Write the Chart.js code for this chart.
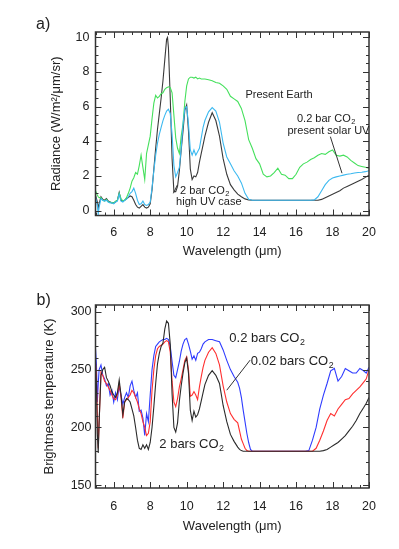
<!DOCTYPE html>
<html>
<head>
<meta charset="utf-8">
<script src="https://cdn.jsdelivr.net/npm/chart.js@4/dist/chart.umd.min.js"></script>
<style>
  html, body { margin: 0; padding: 0; background: #fff; }
  #wrap { position: relative; width: 399px; height: 549px; }
  canvas { position: absolute; left: 0; }
</style>
</head>
<body>
<div id="wrap">
  <canvas id="top" width="399" height="270" style="top:0"></canvas>
  <canvas id="bot" width="399" height="279" style="top:270px"></canvas>
</div>
<script>
// ---------- Panel a) Radiance ----------
const topWavelength = [
  5.0,5.1,5.15,5.2,5.3,5.4,5.5,5.6,5.7,5.8,
  5.9,6.0,6.1,6.2,6.3,6.4,6.5,6.6,6.7,6.8,
  6.9,7.0,7.1,7.2,7.3,7.4,7.5,7.6,7.7,7.8,
  7.9,8.0,8.1,8.2,8.3,8.4,8.5,8.6,8.7,8.8,
  8.9,8.95,9.0,9.1,9.2,9.3,9.4,9.5,9.6,9.7,
  9.8,9.9,10.0,10.1,10.2,10.3,10.4,10.5,10.6,10.7,
  10.8,10.9,11.0,11.2,11.4,11.6,11.8,12.0,12.2,12.4,
  12.6,12.8,13.0,13.2,13.4,13.6,13.8,14.0,14.2,14.4,
  14.6,14.8,15.0,15.2,15.4,15.6,15.8,16.0,16.2,16.4,
  16.6,16.8,17.0,17.2,17.4,17.6,17.8,18.0,18.2,18.4,
  18.6,18.8,19.0,19.2,19.4,19.6,19.8,20.0
];
const presentEarth = [
  1.15,0.9,0.8,0.75,0.75,0.6,0.55,0.65,0.5,0.5,
  0.45,0.45,0.55,0.6,1.0,0.7,0.55,0.6,0.75,1.0,
  1.3,1.7,1.9,2.2,2.1,2.6,3.2,2.5,1.8,3.3,
  3.8,4.3,5.3,6.2,6.65,6.5,6.6,6.75,6.8,7.0,
  7.1,7.12,7.15,7.1,6.8,5.5,4.2,3.6,3.3,4.3,
  5.0,6.3,7.2,7.6,7.7,7.7,7.65,7.7,7.6,7.65,
  7.6,7.6,7.6,7.55,7.5,7.4,7.35,7.2,7.0,6.6,
  6.45,6.3,5.9,5.2,4.1,3.6,3.0,2.7,2.1,1.95,
  2.0,2.2,2.45,2.1,2.05,1.85,1.85,2.1,2.5,2.7,
  2.8,2.95,3.05,3.2,3.3,3.25,3.4,3.5,3.2,3.15,
  3.2,3.1,2.9,2.75,2.6,2.55,2.5,2.45
];
const co2Bar02PresentUV = [
  0.8,0.3,-0.2,0.2,0.7,0.6,0.55,0.6,0.5,0.45,
  0.45,0.4,0.5,0.55,0.95,0.55,0.5,0.6,0.65,0.8,
  1.0,1.1,1.3,1.0,0.6,0.35,0.4,0.55,0.35,0.3,
  0.35,0.5,1.3,2.3,3.2,3.9,4.4,4.8,5.2,5.5,
  5.75,5.8,5.85,5.6,4.4,2.6,1.95,2.2,2.5,3.6,
  5.0,5.9,6.0,5.0,3.5,3.2,3.5,3.2,3.4,3.6,
  4.2,4.8,5.2,5.7,5.95,5.75,5.1,3.9,3.1,2.7,
  2.3,2.0,1.6,1.0,0.65,0.6,0.6,0.6,0.6,0.6,
  0.6,0.6,0.6,0.6,0.6,0.6,0.6,0.6,0.6,0.6,
  0.6,0.6,0.62,0.8,1.15,1.5,1.75,1.88,1.95,2.0,
  2.05,2.1,2.13,2.17,2.2,2.22,2.25,2.3
];
const co2Bar2HighUV = [
  0.9,0.5,0.15,0.4,0.8,0.65,0.6,0.7,0.55,0.5,
  0.45,0.45,0.5,0.6,1.05,0.6,0.55,0.6,0.7,0.75,
  0.85,0.8,0.6,0.35,0.2,0.15,0.25,0.35,0.2,0.15,
  0.2,0.4,1.2,2.4,3.6,4.7,5.6,6.5,7.5,8.7,
  9.9,10.0,9.4,6.5,3.0,1.1,1.1,1.4,2.3,3.5,
  4.6,5.8,6.1,4.6,2.4,1.8,2.0,1.95,2.2,2.8,
  3.3,3.8,4.3,5.1,5.65,5.2,4.3,3.0,2.1,1.5,
  1.2,0.95,0.8,0.68,0.62,0.6,0.6,0.6,0.6,0.6,
  0.6,0.6,0.6,0.6,0.6,0.6,0.6,0.6,0.6,0.6,
  0.6,0.6,0.6,0.6,0.65,0.75,0.85,0.95,1.05,1.15,
  1.3,1.4,1.5,1.6,1.7,1.8,1.92,2.05
];
const topYTicks = [0, 2, 4, 6, 8, 10];

// ---------- Panel b) Brightness temperature ----------
const botWavelength = [
  5.0,5.05,5.1,5.15,5.2,5.3,5.4,5.5,5.6,5.7,
  5.8,5.9,6.0,6.1,6.2,6.3,6.4,6.5,6.6,6.7,
  6.8,6.9,7.0,7.1,7.2,7.3,7.4,7.5,7.6,7.7,
  7.8,7.9,8.0,8.1,8.2,8.3,8.4,8.5,8.6,8.7,
  8.8,8.9,9.0,9.1,9.2,9.3,9.4,9.5,9.6,9.7,
  9.8,9.9,10.0,10.1,10.2,10.3,10.4,10.5,10.6,10.7,
  10.8,10.9,11.0,11.2,11.4,11.6,11.8,12.0,12.2,12.4,
  12.6,12.8,12.9,13.0,13.1,13.2,13.3,13.4,13.5,13.6,
  14.0,14.5,15.0,15.5,16.0,16.5,16.7,16.9,17.1,17.3,
  17.5,17.7,17.9,18.1,18.3,18.5,18.7,18.9,19.1,19.3,
  19.5,19.7,19.85,20.0
];
const tb2bars = [
  255,238,195,178,205,245,250,252,243,240,
  236,231,228,226,230,241,228,211,222,225,
  224,222,216,210,200,189,182,181,185,182,
  185,181,187,200,218,238,255,264,270,273,
  285,292,290,272,229,200,196,204,223,236,
  247,256,260,247,215,206,214,209,211,216,
  223,230,237,245,249,245,238,219,205,194,
  188,183,181,180,179.5,179.5,179.5,179.5,179.5,179.5,
  179.5,179.5,179.5,179.5,179.5,179.5,179.5,179.5,179.5,179.5,
  180,181,183,185,187,190,193,197,201,206,
  212,217,221,226
];
const tb002bars = [
  256,245,212,182,205,248,245,240,238,235,
  232,228,225,224,228,238,226,208,222,224,
  226,228,232,230,226,222,216,212,205,200,
  193,195,205,232,250,262,268,270,271,272,
  274,275,274,265,240,222,218,225,235,242,
  250,258,261,250,227,228,231,228,224,235,
  244,252,258,265,269,264,254,236,222,212,
  207,204,197,190,186,182,180,179.5,179.5,179.5,
  179.5,179.5,179.5,179.5,179.5,179.5,179.5,179.5,182,189,
  197,206,212,210,216,220,224,225,229,232,
  235,239,242,250
];
const tb02bars = [
  268,255,222,238,250,254,245,242,236,238,
  228,232,222,230,224,236,228,220,226,230,
  226,236,240,232,226,230,214,215,208,193,
  212,205,228,250,262,270,272,274,275,276,
  276,277,276,270,257,245,243,250,257,266,
  272,276,277,272,266,259,262,258,264,265,
  268,272,274,276,276,275,274,267,258,250,
  244,239,234,226,215,205,195,187,181,179.5,
  179.5,179.5,179.5,179.5,179.5,179.5,180,189,200,216,
  228,238,249,251,240,244,251,249,247,247,
  251,249,247,252
];
const botYTicks = [150, 200, 250, 300];
const xTicks = [6, 8, 10, 12, 14, 16, 18, 20];

// ---------- helpers ----------
const FONT = "'Liberation Sans', Arial, Helvetica, sans-serif";
const INK = '#222';

function pts(xs, ys) { return xs.map((x, i) => ({ x: x, y: ys[i] })); }

const frameTicks = {
  id: 'frameTicks',
  afterDatasetsDraw(chart, args, o) {
    const { ctx, chartArea: a, scales: { x, y } } = chart;
    ctx.save();
    ctx.strokeStyle = '#333';
    ctx.lineWidth = 1;
    ctx.beginPath();
    const xs = (v, len) => {
      const p = Math.round(x.getPixelForValue(v)) + 0.5;
      ctx.moveTo(p, a.bottom); ctx.lineTo(p, a.bottom - len);
      ctx.moveTo(p, a.top); ctx.lineTo(p, a.top + len);
    };
    const ys = (v, len) => {
      const p = Math.round(y.getPixelForValue(v)) + 0.5;
      ctx.moveTo(a.left, p); ctx.lineTo(a.left + len, p);
      ctx.moveTo(a.right, p); ctx.lineTo(a.right - len, p);
    };
    for (let v = o.xMin; v <= o.xMax + 1e-9; v += o.xMinor) xs(v, 3);
    o.xMajor.forEach(v => xs(v, 6));
    for (let v = o.yMinorStart; v <= o.yMinorEnd + 1e-9; v += o.yMinor) ys(v, 3);
    o.yMajor.forEach(v => ys(v, 6));
    ctx.stroke();
    ctx.lineWidth = 1.5;
    ctx.strokeStyle = '#333';
    ctx.strokeRect(a.left, a.top, a.right - a.left, a.bottom - a.top);
    ctx.restore();
  }
};

const notes = {
  id: 'notes',
  afterDraw(chart, args, o) {
    const { ctx, scales: { x, y } } = chart;
    ctx.save();
    ctx.fillStyle = INK;
    ctx.strokeStyle = '#333';
    ctx.lineWidth = 1;
    (o.lines || []).forEach(l => {
      ctx.beginPath();
      ctx.moveTo(x.getPixelForValue(l[0]), y.getPixelForValue(l[1]));
      ctx.lineTo(x.getPixelForValue(l[2]), y.getPixelForValue(l[3]));
      ctx.stroke();
    });
    ctx.textBaseline = 'middle';
    ctx.textAlign = 'left';
    (o.texts || []).forEach(t => {
      let px = x.getPixelForValue(t.x);
      const py = y.getPixelForValue(t.y);
      t.parts.forEach(p => {
        if (p.sub) {
          ctx.font = (o.size * 0.68) + 'px ' + FONT;
          ctx.fillText(p.t, px + 0.5, py + o.size * 0.32);
          px += ctx.measureText(p.t).width + 1;
        } else {
          ctx.font = o.size + 'px ' + FONT;
          ctx.fillText(p.t, px, py);
          px += ctx.measureText(p.t).width;
        }
      });
    });
    if (o.panel) {
      ctx.font = '16px ' + FONT;
      ctx.fillText(o.panel.t, o.panel.x, o.panel.y);
    }
    ctx.restore();
  }
};

function makeChart(id, cfg) {
  return new Chart(document.getElementById(id), {
    type: 'line',
    data: { datasets: cfg.datasets },
    options: {
      responsive: false,
      maintainAspectRatio: false,
      devicePixelRatio: 1,
      animation: false,
      events: [],
      layout: { padding: { top: cfg.padTop, right: 30, left: 0, bottom: 0 } },
      elements: { point: { radius: 0 }, line: { borderWidth: 1.1, tension: 0 } },
      plugins: {
        legend: { display: false },
        tooltip: { enabled: false },
        frameTicks: cfg.frame,
        notes: cfg.notes
      },
      scales: {
        x: {
          type: 'linear', min: 5, max: 20,
          afterBuildTicks: s => { s.ticks = xTicks.map(v => ({ value: v })); },
          afterFit: s => { s.height = cfg.xAxisHeight; },
          grid: { display: false, drawTicks: false },
          border: { display: false },
          ticks: { color: INK, font: { family: FONT, size: 12.5 }, padding: cfg.xLabelPad, maxRotation: 0, autoSkip: false },
          title: { display: true, text: 'Wavelength (μm)', color: INK, font: { family: FONT, size: 13 }, padding: { top: 0, bottom: cfg.xTitlePad } }
        },
        y: {
          type: 'linear', min: cfg.yMin, max: cfg.yMax,
          afterBuildTicks: s => { s.ticks = cfg.yTicks.map(v => ({ value: v })); },
          afterFit: s => { s.width = 95.5; },
          grid: { display: false, drawTicks: false },
          border: { display: false },
          ticks: { color: INK, font: { family: FONT, size: 12.5 }, padding: cfg.yLabelPad, autoSkip: false },
          title: { display: true, text: cfg.yTitle, color: INK, font: { family: FONT, size: 13 }, padding: { top: cfg.yTitlePad, bottom: 0 } }
        }
      }
    },
    plugins: [frameTicks, notes]
  });
}

// Top chart: radiance
makeChart('top', {
  padTop: 32,
  xAxisHeight: 54.5,
  xLabelPad: 9.5,
  xTitlePad: 11,
  yLabelPad: 6,
  yTitlePad: 49,
  yMin: -0.28, yMax: 10.31,
  yTicks: topYTicks,
  yTitle: 'Radiance (W/m²/μm/sr)',
  datasets: [
    { label: '0.2 bar CO2 present solar UV', data: pts(topWavelength, co2Bar02PresentUV), borderColor: '#3cb9f0' },
    { label: 'Present Earth', data: pts(topWavelength, presentEarth), borderColor: '#45e05c' },
    { label: '2 bar CO2 high UV case', data: pts(topWavelength, co2Bar2HighUV), borderColor: '#3a3a3a' }
  ],
  frame: { xMin: 5, xMax: 20, xMinor: 0.5, xMajor: xTicks, yMinorStart: 0, yMinorEnd: 10, yMinor: 0.5, yMajor: topYTicks },
  notes: {
    size: 11,
    panel: { t: 'a)', x: 36, y: 25 },
    lines: [[17.88, 4.27, 18.52, 2.16], [9.27, 1.0, 9.49, 1.48]],
    texts: [
      { x: 13.22, y: 6.65, parts: [{ t: 'Present Earth' }] },
      { x: 16.05, y: 5.3, parts: [{ t: '0.2 bar CO' }, { t: '2', sub: true }] },
      { x: 15.53, y: 4.61, parts: [{ t: 'present solar UV' }] },
      { x: 9.64, y: 1.15, parts: [{ t: '2 bar CO' }, { t: '2', sub: true }] },
      { x: 9.42, y: 0.52, parts: [{ t: 'high UV case' }] }
    ]
  }
});

// Bottom chart: brightness temperature
makeChart('bot', {
  padTop: 35,
  xAxisHeight: 61,
  xLabelPad: 11.5,
  xTitlePad: 14.5,
  yLabelPad: 4,
  yTitlePad: 42,
  yMin: 147.7, yMax: 305.8,
  yTicks: botYTicks,
  yTitle: 'Brightness temperature (K)',
  datasets: [
    { label: '2 bars CO2', data: pts(botWavelength, tb2bars), borderColor: '#2a2a2a' },
    { label: '0.02 bars CO2', data: pts(botWavelength, tb002bars), borderColor: '#ff2f2f' },
    { label: '0.2 bars CO2', data: pts(botWavelength, tb02bars), borderColor: '#2f3cff' }
  ],
  frame: { xMin: 5, xMax: 20, xMinor: 0.5, xMajor: xTicks, yMinorStart: 150, yMinorEnd: 300, yMinor: 10, yMajor: botYTicks },
  notes: {
    size: 13,
    panel: { t: 'b)', x: 36.5, y: 31 },
    lines: [[13.48, 258.2, 12.2, 232.2]],
    texts: [
      { x: 12.34, y: 277, parts: [{ t: '0.2 bars CO' }, { t: '2', sub: true }] },
      { x: 13.52, y: 256.7, parts: [{ t: '0.02 bars CO' }, { t: '2', sub: true }] },
      { x: 8.5, y: 185.5, parts: [{ t: '2 bars CO' }, { t: '2', sub: true }] }
    ]
  }
});
</script>
</body>
</html>
